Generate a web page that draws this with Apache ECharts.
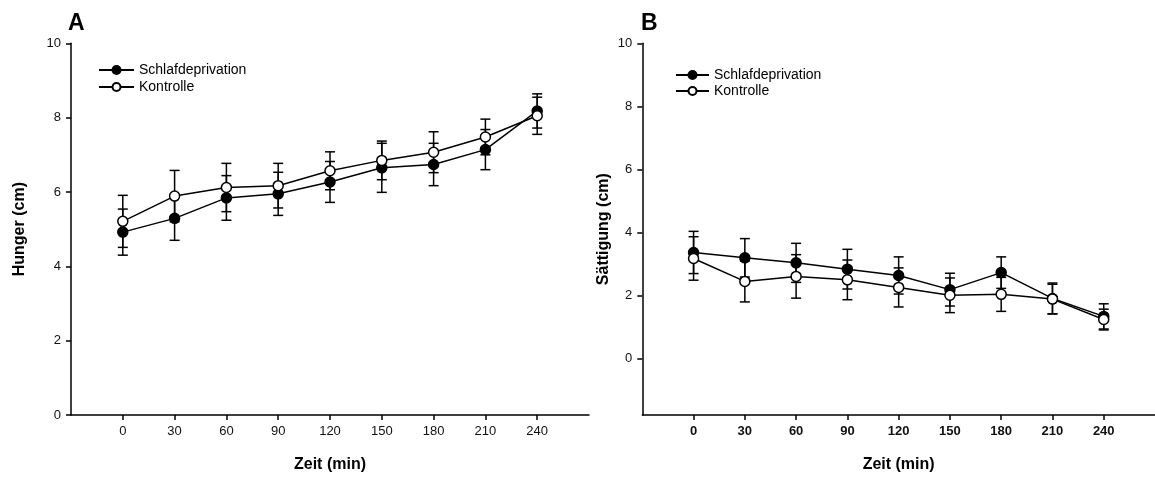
<!DOCTYPE html>
<html>
<head>
<meta charset="utf-8">
<script src="https://cdn.jsdelivr.net/npm/echarts@6/dist/echarts.min.js"></script>
<style>
html,body{margin:0;padding:0;background:#fff;}
#chart{width:1155px;height:478px;}
</style>
</head>
<body>
<div id="chart"></div>
<script>
// ---- data ----
const times = [0, 30, 60, 90, 120, 150, 180, 210, 240];
const xTickLabels = [0, 30, 60, 90, 120, 150, 180, 210, 240];
const yTickLabels = [0, 2, 4, 6, 8, 10];
const seriesNames = ['Schlafdeprivation', 'Kontrolle'];

// Panel A: Hunger (cm)
const hungerSleep    = [4.92, 5.29, 5.84, 5.95, 6.27, 6.65, 6.74, 7.14, 8.18];
const hungerSleepErr = [0.62, 0.59, 0.60, 0.58, 0.55, 0.66, 0.57, 0.54, 0.46];
const hungerCtrl     = [5.21, 5.89, 6.12, 6.17, 6.57, 6.85, 7.07, 7.48, 8.05];
const hungerCtrlErr  = [0.70, 0.69, 0.65, 0.60, 0.51, 0.52, 0.55, 0.48, 0.50];

// Panel B: Sättigung (cm)
const satSleep    = [3.36, 3.19, 3.03, 2.83, 2.63, 2.18, 2.72, 1.90, 1.33];
const satSleepErr = [0.67, 0.61, 0.62, 0.63, 0.59, 0.52, 0.50, 0.49, 0.40];
const satCtrl     = [3.17, 2.44, 2.60, 2.49, 2.25, 2.00, 2.03, 1.88, 1.23];
const satCtrlErr  = [0.69, 0.65, 0.69, 0.63, 0.62, 0.55, 0.54, 0.47, 0.33];

// ---- helpers ----
const FONT = "'Liberation Sans', Arial, sans-serif";
const pts = (vals) => times.map((t, i) => [t, vals[i]]);
const errs = (vals, e) => times.map((t, i) => [t, vals[i] - e[i], vals[i] + e[i]]);

function errorSeries(gridIdx, data) {
  return {
    type: 'custom',
    xAxisIndex: gridIdx, yAxisIndex: gridIdx,
    z: 1,
    silent: true,
    data: data,
    renderItem: function (params, api) {
      const x = api.value(0);
      const lo = api.coord([x, api.value(1)]);
      const hi = api.coord([x, api.value(2)]);
      const hw = 5;
      const style = { stroke: '#000', lineWidth: 1.5, fill: null };
      return {
        type: 'group',
        children: [
          { type: 'line', shape: { x1: lo[0], y1: lo[1], x2: hi[0], y2: hi[1] }, style: style },
          { type: 'line', shape: { x1: lo[0] - hw, y1: lo[1], x2: lo[0] + hw, y2: lo[1] }, style: style },
          { type: 'line', shape: { x1: hi[0] - hw, y1: hi[1], x2: hi[0] + hw, y2: hi[1] }, style: style }
        ]
      };
    }
  };
}

function lineSeries(gridIdx, name, data, filled) {
  return {
    type: 'line',
    name: name,
    xAxisIndex: gridIdx, yAxisIndex: gridIdx,
    data: data,
    z: 3,
    symbol: 'circle',
    symbolSize: 10,
    showAllSymbol: true,
    lineStyle: { color: '#000', width: 1.5 },
    itemStyle: { color: filled ? '#000' : '#fff', borderColor: '#000', borderWidth: 1.5 },
    emphasis: { disabled: true },
    animation: false
  };
}

function xAxis(gridIdx, boldLabels) {
  return {
    type: 'value', gridIndex: gridIdx,
    min: -30, max: 270,
    name: 'Zeit (min)', nameLocation: 'middle', nameGap: 42,
    nameTextStyle: { fontFamily: FONT, fontSize: 16, fontWeight: 'bold', color: '#000' },
    axisLine: { show: true, onZero: false, lineStyle: { color: '#000', width: 1.5 } },
    axisTick: { show: true, inside: false, length: 5, customValues: xTickLabels, lineStyle: { color: '#000', width: 1.5 } },
    axisLabel: { show: true, customValues: xTickLabels, margin: 10, fontFamily: FONT, fontSize: 13,
                 fontWeight: boldLabels ? 'bold' : 'normal', color: '#111' },
    splitLine: { show: false }
  };
}

function yAxis(gridIdx, name, min, gap) {
  return {
    type: 'value', gridIndex: gridIdx,
    min: min, max: 10,
    name: name, nameLocation: 'middle', nameGap: gap, nameRotate: 90,
    nameTextStyle: { fontFamily: FONT, fontSize: 16, fontWeight: 'bold', color: '#000' },
    axisLine: { show: true, onZero: false, lineStyle: { color: '#000', width: 1.5 } },
    axisTick: { show: true, inside: false, length: 5, customValues: yTickLabels, lineStyle: { color: '#000', width: 1.5 } },
    axisLabel: { show: true, customValues: yTickLabels, margin: 10, fontFamily: FONT, fontSize: 13, color: '#111' },
    splitLine: { show: false }
  };
}

function legend(left, top, gap, w) {
  return {
    left: left, top: top, orient: 'vertical',
    data: seriesNames,
    itemWidth: w, itemHeight: 10, itemGap: gap,
    textStyle: { fontFamily: FONT, fontSize: 14, color: '#000', padding: [0, 0, 0, 0] },
    selectedMode: false
  };
}

const chart = echarts.init(document.getElementById('chart'), null, { renderer: 'canvas' });
chart.setOption({
  animation: false,
  backgroundColor: '#fff',
  grid: [
    { left: 71, top: 43.3, width: 518, height: 372.7, containLabel: false },
    { left: 642.3, top: 43.3, width: 518, height: 372.7, containLabel: false }
  ],
  legend: [legend(93, 58, 3, 35), legend(670, 63, 2, 33)],
  xAxis: [xAxis(0, false), xAxis(1, true)],
  yAxis: [yAxis(0, 'Hunger (cm)', 0, 43), yAxis(1, 'Sättigung (cm)', -1.8, 31)],
  graphic: [
    { type: 'text', left: 68, top: 12, style: { text: 'A', fontFamily: FONT, fontSize: 23, fontWeight: 'bold', fill: '#000' } },
    { type: 'text', left: 641, top: 12, style: { text: 'B', fontFamily: FONT, fontSize: 23, fontWeight: 'bold', fill: '#000' } }
  ],
  series: [
    errorSeries(0, errs(hungerSleep, hungerSleepErr)),
    errorSeries(0, errs(hungerCtrl, hungerCtrlErr)),
    lineSeries(0, seriesNames[0], pts(hungerSleep), true),
    lineSeries(0, seriesNames[1], pts(hungerCtrl), false),
    errorSeries(1, errs(satSleep, satSleepErr)),
    errorSeries(1, errs(satCtrl, satCtrlErr)),
    lineSeries(1, seriesNames[0], pts(satSleep), true),
    lineSeries(1, seriesNames[1], pts(satCtrl), false)
  ]
});
</script>
</body>
</html>
